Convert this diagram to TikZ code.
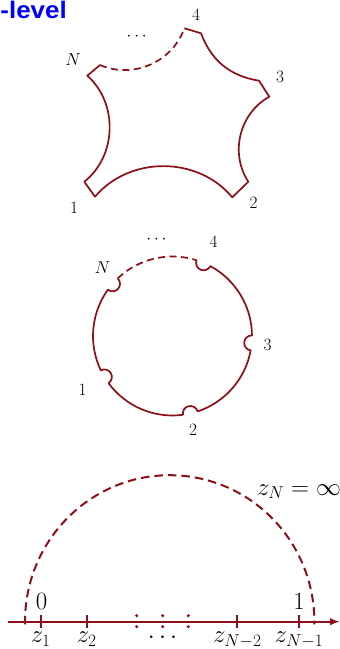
\documentclass[tikz,border=0pt]{standalone}
\usepackage{fontspec}
\newfontfamily\titlefont{Liberation Sans}
\usetikzlibrary{arrows.meta,calc}
\definecolor{maroon}{RGB}{140,15,25}
\begin{document}
\begin{tikzpicture}[x=1pt,y=1pt,
  curve/.style={draw=maroon, line width=1.7pt, line join=round},
  dashcurve/.style={curve, dash pattern=on 7pt off 4.5pt},
  bigdash/.style={curve, line width=2pt, dash pattern=on 8.5pt off 5pt},
  axisline/.style={draw=maroon, line width=2.2pt},
  tickline/.style={draw=maroon, line width=2pt},
  lab/.style={inner sep=0pt, font=\fontsize{18}{20}\selectfont},
  biglab/.style={inner sep=0pt, font=\fontsize{24}{28}\selectfont}]
\useasboundingbox (0,0) rectangle (340,-649);

% title fragment
\node[anchor=base west, inner sep=0pt, text=blue,
      font=\titlefont\bfseries\fontsize{24}{28}\selectfont] (title) at (0.3,-18) {\scalebox{1.08}[1]{-level}};

% ---------- top: truncated ideal polygon ----------
\coordinate (n1) at (87.3,-75.7);
\coordinate (n2) at (100,-65);
\coordinate (f1) at (184.3,-28.3);
\coordinate (f2) at (201,-33.3);
\coordinate (t1) at (259,-80.7);
\coordinate (t2) at (269.3,-96.7);
\coordinate (s1) at (248.3,-181.7);
\coordinate (s2) at (232.3,-197.3);
\coordinate (o1) at (95,-196.7);
\coordinate (o2) at (84.3,-181.7);
\draw[dashcurve] (n2) to[bend right=47] (f1);
\draw[curve] (f1) -- (f2) to[bend right=30] (t1) -- (t2) to[bend right=47] (s1)
  -- (s2) to[bend right=50] (o1) -- (o2) to[bend right=50] (n1) -- (n2);

\node[lab] (tN) at (73,-59.5) {$N$};
\node[lab] (t4) at (196,-15) {$4$};
\node[lab] (t3) at (280,-77) {$3$};
\node[lab] (t2l) at (253.5,-203) {$2$};
\node[lab] (t1l) at (74,-207.5) {$1$};
\node[lab] (tdots) at (136.7,-36.7) {$\cdots$};

% ---------- middle: disk with notches ----------
\coordinate (cc) at (172.5,-336);
\draw[dashcurve] ($(cc)+(133.59:79.5)$) arc[start angle=133.59, end angle=72.41, radius=79.5];
\draw[curve] ($(cc)+(72.41:79.5)$)
  arc[start angle=159.7, end angle=334.3, radius=7.5]
  arc[start angle=61.59, end angle=0.41, radius=79.5]
  arc[start angle=87.7, end angle=262.3, radius=7.5]
  arc[start angle=-10.41, end angle=-71.59, radius=79.5]
  arc[start angle=15.7, end angle=190.3, radius=7.5]
  arc[start angle=-82.41, end angle=-143.59, radius=79.5]
  arc[start angle=-56.3, end angle=118.3, radius=7.5]
  arc[start angle=-154.41, end angle=-215.59, radius=79.5]
  arc[start angle=231.7, end angle=406.3, radius=7.5];

\node[lab] (mN) at (102.5,-267.5) {$N$};
\node[lab] (m4) at (213.5,-242) {$4$};
\node[lab] (m3) at (267.5,-344.5) {$3$};
\node[lab] (m2) at (193,-430) {$2$};
\node[lab] (m1) at (82.5,-390) {$1$};
\node[lab] (mdots) at (156.5,-240) {$\cdots$};

% ---------- bottom: upper half plane ----------
\coordinate (hc) at (169.7,-621.7);
\draw[bigdash] ($(hc)+(181:144.7 and 146.5)$) arc[start angle=181, end angle=-1, x radius=144.7, y radius=146.5];

\coordinate (ax0) at (8.3,-621.7);
\coordinate (ax1) at (340,-621.7);
\draw[axisline, -{Latex[length=10pt,width=7.5pt]}] (ax0) -- (ax1);

\foreach \nm/\x in {k1/40.7, k2/86.7, k3/237.3, k4/299}{
  \coordinate (\nm a) at (\x,-615);
  \coordinate (\nm b) at (\x,-628.3);
  \draw[tickline] (\nm a) -- (\nm b);
}
\foreach \x in {136.7,162.7,188.3}{
  \fill[maroon] (\x,-615.7) circle[radius=1.7];
  \fill[maroon] (\x,-626.7) circle[radius=1.7];
}

\node[biglab, anchor=base] (l0) at (41.7,-609.3) {$0$};
\node[biglab, anchor=base] (l1) at (299,-609.3) {$1$};
\node[biglab, anchor=base] (zN) at (299,-495) {$z_N=\infty$};
\node[biglab, anchor=base] (z1) at (40.7,-642.5) {$z_1$};
\node[biglab, anchor=base] (z2) at (86.7,-642.5) {$z_2$};
\node[biglab, anchor=base] (zd) at (162.5,-643.5) {$\cdots$};
\node[biglab, anchor=base] (z3) at (237.3,-642.5) {$z_{N-2}$};
\node[biglab, anchor=base] (z4) at (299,-642.5) {$z_{N-1}$};
\end{tikzpicture}
\end{document}
